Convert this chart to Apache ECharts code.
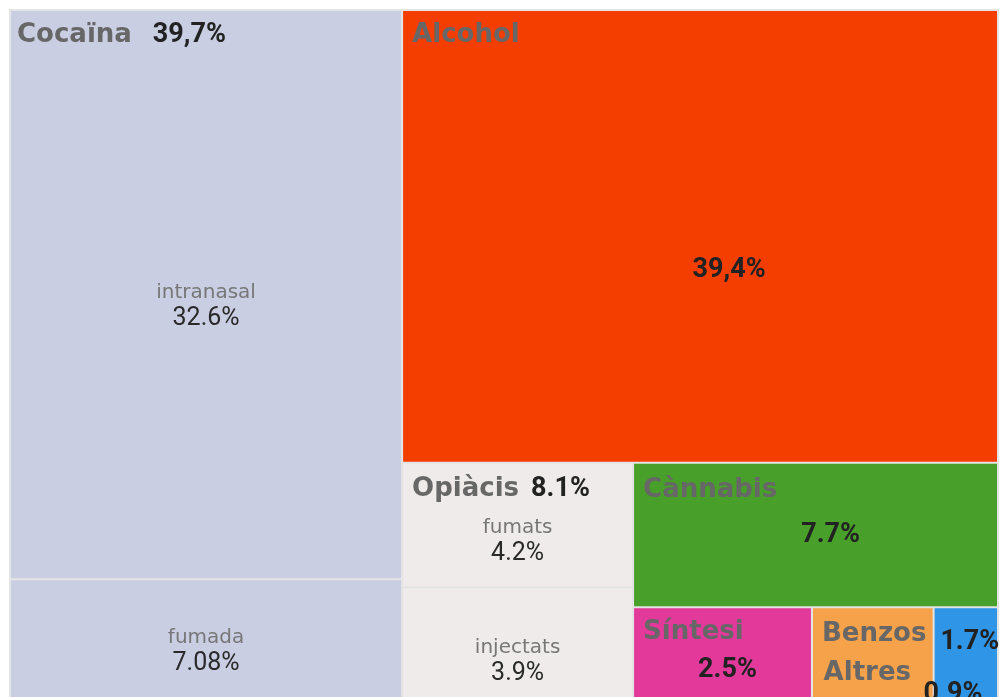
<!DOCTYPE html>
<html>
<head>
<meta charset="utf-8">
<script src="https://cdn.jsdelivr.net/npm/echarts@6/dist/echarts.min.js"></script>
<style>
html, body { margin: 0; padding: 0; background: #fff; }
#chart { width: 1001px; height: 697px; }
</style>
</head>
<body>
<div id="chart"></div>
<script>
// percentatges per substància (llegits del gràfic)
var drugNames = ['Cocaïna', 'Alcohol', 'Opiàcis', 'Cànnabis', 'Síntesi', 'Benzos', 'Altres'];
var drugValues = [39.7, 39.4, 8.1, 7.7, 2.5, 1.7, 0.9];
var drugLabels = ['39,7%', '39,4%', '8.1%', '7.7%', '2.5%', '1.7%', '0.9%'];

// vies de consum
var cocaTypes = ['intranasal', 'fumada'];
var cocaValues = [32.6, 7.08];
var cocaLabels = ['32.6%', '7.08%'];
var opiTypes = ['fumats', 'injectats'];
var opiValues = [4.2, 3.9];
var opiLabels = ['4.2%', '3.9%'];

// estils
var colors = ['#c9cee2', '#f43e00', '#eeebea', '#48a02a', '#e2399b', '#f6a24a', '#2f95e6'];
var lineColor = '#e4e4e4';

var baseRich = {
    hn: { fontFamily: 'DejaVu Sans', fontWeight: 'bold', fontSize: 26, color: '#676767', lineHeight: 48, padding: [0, 0, 0, 6] },
    hv: { fontFamily: 'Roboto', fontWeight: 'bold', fontSize: 27, color: '#222', lineHeight: 48, padding: [0, 0, 0, 21] },
    sn: { fontFamily: 'DejaVu Sans', fontSize: 20, color: '#777', align: 'center', lineHeight: 26 },
    sv: { fontFamily: 'Roboto', fontSize: 25, color: '#2a2a2a', align: 'center', lineHeight: 26 },
    bv: { fontFamily: 'Roboto', fontWeight: 'bold', fontSize: 27, color: '#222', align: 'center', lineHeight: 28 },
    sp: { fontSize: 1, lineHeight: 10 }
};

function makeRich(over) {
    var r = {};
    for (var k in baseRich) {
        r[k] = Object.assign({}, baseRich[k], (over && over[k]) || {});
    }
    return r;
}

function leaf(name, value, color, text, over, labelExtra) {
    var label = Object.assign({ formatter: text.join('\n'), rich: makeRich(over) }, labelExtra || {});
    return { name: name, value: value, itemStyle: { color: color }, label: label };
}

var data = [
    leaf(cocaTypes[0], cocaValues[0], colors[0],
        ['{hn|' + drugNames[0] + '}{hv|' + drugLabels[0] + '}', '{sp| }', '{sn|' + cocaTypes[0] + '}', '{sv|' + cocaLabels[0] + '}'],
        { sp: { lineHeight: 221 } }),
    leaf(cocaTypes[1], cocaValues[1], colors[0],
        ['{sp| }', '{sn|' + cocaTypes[1] + '}', '{sv|' + cocaLabels[1] + '}'],
        { sp: { lineHeight: 44 } }),
    leaf(drugNames[1], drugValues[1], colors[1],
        ['{hn|' + drugNames[1] + '}', '{sp| }', '{bv|' + drugLabels[1] + '}'],
        { hn: { padding: [0, 0, 0, 9] }, sp: { lineHeight: 197 }, bv: { padding: [0, 0, 0, 58] } }),
    leaf(opiTypes[0], opiValues[0], colors[2],
        ['{hn|' + drugNames[2] + '}{hv|' + drugLabels[2] + '}', '{sp| }', '{sn|' + opiTypes[0] + '}', '{sv|' + opiLabels[0] + '}'],
        { hn: { lineHeight: 50, padding: [0, 0, 0, 9] }, hv: { lineHeight: 50, padding: [0, 0, 0, 12] }, sp: { lineHeight: 1 } }),
    leaf(opiTypes[1], opiValues[1], colors[2],
        ['{sp| }', '{sn|' + opiTypes[1] + '}', '{sv|' + opiLabels[1] + '}'],
        { sp: { lineHeight: 46 } }),
    leaf(drugNames[3], drugValues[3], colors[3],
        ['{hn|' + drugNames[3] + '}', '{sp| }', '{bv|' + drugLabels[3] + '}'],
        { hn: { lineHeight: 52, padding: [0, 0, 0, 9] }, sp: { lineHeight: 5 }, bv: { padding: [0, 0, 0, 30] } }),
    {
        name: '',
        itemStyle: { borderWidth: 0, color: lineColor },
        children: [
            leaf(drugNames[4], drugValues[4], colors[4],
                ['{hn|' + drugNames[4] + '}', '{bv|' + drugLabels[4] + '}'],
                { hn: { padding: [0, 0, 0, 9] }, bv: { padding: [0, 0, 0, 10] } }),
            leaf(drugNames[5], drugValues[5], colors[5],
                ['{hn|' + drugNames[5] + '}{hv|' + drugLabels[5] + '}'],
                { hn: { lineHeight: 52, padding: [0, 0, 0, 9] }, hv: { lineHeight: 52, padding: [16, 0, 0, 14] } }),
            leaf(drugNames[6], drugValues[6], colors[6],
                ['{hn|' + drugNames[6] + '}', '{bv|' + drugLabels[6] + '}'],
                { hn: { lineHeight: 26 }, bv: { lineHeight: 16, align: 'left', padding: [0, 0, 0, 106] } },
                { position: [-117, 52] })
        ]
    }
];

var chart = echarts.init(document.getElementById('chart'));
chart.setOption({
    animation: false,
    series: [{
        type: 'treemap',
        left: 9,
        top: 9,
        width: 990,
        height: 695,
        squareRatio: 2.2,
        sort: false,
        roam: false,
        nodeClick: false,
        breadcrumb: { show: false },
        itemStyle: { borderWidth: 1, borderColor: lineColor, gapWidth: 0 },
        label: { show: true, position: 'insideTopLeft', padding: 0, distance: 0, overflow: 'none' },
        upperLabel: { show: false },
        data: data
    }]
});
</script>
</body>
</html>
